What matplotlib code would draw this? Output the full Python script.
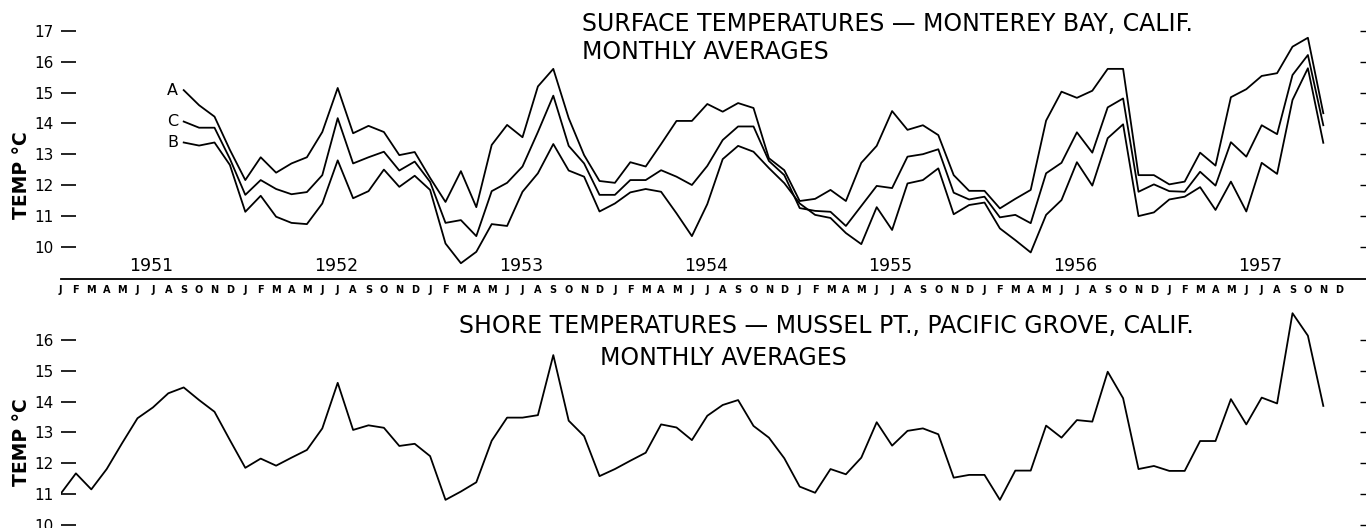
import matplotlib
matplotlib.use("Agg")
import matplotlib.pyplot as plt

plt.rcParams['font.family'] = ['DejaVu Sans']

# months counted from Jan 1951 (0) ; surface lines start Sep 1951, shore line Jan 1951
years = [1951, 1952, 1953, 1954, 1955, 1956, 1957]
month_letters = list("JFMAMJJASOND") * 7
surface_start = 8
shore_start = 0

# surface temperatures, Monterey Bay (Sep 1951 - Nov 1957)
line_a = [15.08, 14.59, 14.22, 13.14,
          12.16, 12.9, 12.4, 12.7, 12.9, 13.72, 15.15, 13.68, 13.92, 13.72, 12.97, 13.07,
          12.23, 11.45, 12.45, 11.28, 13.3, 13.95, 13.55, 15.2, 15.77, 14.17, 12.97, 12.13,
          12.07, 12.74, 12.6, 13.33, 14.08, 14.08, 14.63, 14.38, 14.66, 14.5, 12.87, 12.48,
          11.48, 11.55, 11.84, 11.48, 12.72, 13.27, 14.4, 13.79, 13.94, 13.62, 12.32, 11.81,
          11.81, 11.24, 11.55, 11.84, 14.09, 15.03, 14.83, 15.06, 15.77, 15.77, 12.32, 12.32,
          12.02, 12.11, 13.05, 12.63, 14.85, 15.11, 15.54, 15.63, 16.49, 16.78, 14.33]
line_c = [14.06, 13.86, 13.86, 12.85,
          11.68, 12.16, 11.87, 11.7, 11.77, 12.32, 14.17, 12.7, 12.9, 13.08, 12.47, 12.76,
          12.1, 10.77, 10.86, 10.34, 11.8, 12.07, 12.6, 13.72, 14.9, 13.27, 12.7, 11.68,
          11.68, 12.16, 12.16, 12.48, 12.27, 12.0, 12.62, 13.46, 13.9, 13.9, 12.78, 12.32,
          11.25, 11.16, 11.13, 10.67, 11.32, 11.97, 11.9, 12.92, 13.0, 13.16, 11.75, 11.53,
          11.62, 10.95, 11.03, 10.76, 12.38, 12.72, 13.71, 13.05, 14.52, 14.81, 11.78, 12.02,
          11.8, 11.78, 12.43, 11.98, 13.39, 12.92, 13.94, 13.65, 15.57, 16.22, 13.94]
line_b = [13.38, 13.28, 13.38, 12.65,
          11.13, 11.65, 10.97, 10.77, 10.73, 11.4, 12.8, 11.57, 11.8, 12.5, 11.94, 12.3,
          11.84, 10.1, 9.46, 9.83, 10.73, 10.67, 11.78, 12.38, 13.33, 12.47, 12.27, 11.14,
          11.4, 11.76, 11.87, 11.78, 11.08, 10.34, 11.38, 12.84, 13.27, 13.08, 12.55, 12.06,
          11.4, 11.03, 10.93, 10.44, 10.08, 11.28, 10.54, 12.05, 12.16, 12.54, 11.05, 11.35,
          11.43, 10.59, 10.21, 9.81, 11.03, 11.51, 12.74, 11.98, 13.52, 13.97, 10.99, 11.11,
          11.53, 11.62, 11.93, 11.19, 12.11, 11.14, 12.72, 12.36, 14.76, 15.79, 13.37]

# shore temperatures, Mussel Pt. (Jan 1951 - Nov 1957)
shore = [11.0, 11.67, 11.15, 11.81, 12.65, 13.46, 13.81, 14.27, 14.46, 14.05, 13.67, 12.75,
         11.85, 12.15, 11.92, 12.18, 12.43, 13.13, 14.61, 13.08, 13.23, 13.15, 12.56, 12.63,
         12.23, 10.81, 11.08, 11.38, 12.73, 13.48, 13.48, 13.56, 15.51, 13.38, 12.88, 11.58,
         11.81, 12.08, 12.34, 13.26, 13.16, 12.75, 13.54, 13.89, 14.05, 13.21, 12.83, 12.16,
         11.24, 11.04, 11.81, 11.64, 12.18, 13.33, 12.57, 13.05, 13.13, 12.94, 11.53, 11.62,
         11.62, 10.81, 11.76, 11.76, 13.22, 12.83, 13.40, 13.35, 14.97, 14.11, 11.81, 11.91,
         11.75, 11.75, 12.72, 12.72, 14.08, 13.26, 14.13, 13.94, 16.87, 16.14, 13.86]

top_ticks = list(range(10, 18))
bottom_ticks = list(range(10, 17))

W, H = 1366, 528
fig = plt.figure(figsize=(W / 100, H / 100), dpi=100)

left = 60.5 / W
width = 1 - left
xmax = (W - 60.5) / 15.4

ax1 = fig.add_axes([left, 1 - 279 / H, width, 279 / H])
ax2 = fig.add_axes([left, 0, width, 230 / H])

# верхний график: три линии
for name, vals in [("A", line_a), ("C", line_c), ("B", line_b)]:
    xs = list(range(surface_start, surface_start + len(vals)))
    ax1.plot(xs, vals, color="black", lw=1.3)
    ax1.annotate(name, xy=(xs[0], vals[0]), xytext=(-4, 0), textcoords="offset points",
                 ha="right", va="center", fontsize=11.5)

ax1.set_xlim(0, xmax)
ax1.set_ylim(8.948, 18.006)
for s in ["top", "left", "right"]:
    ax1.spines[s].set_visible(False)
ax1.spines["bottom"].set_linewidth(1.3)
ax1.set_xticks([12 * i for i in range(len(years))])
ax1.set_xticklabels([])
ax1.tick_params(axis="x", which="major", direction="inout", length=9.5, width=1.2)

# буквы месяцев под осью
for i, letter in enumerate(month_letters):
    ax1.annotate(letter, xy=(i, 0), xycoords=("data", "axes fraction"),
                 xytext=(0, -4), textcoords="offset points", ha="center", va="top",
                 fontsize=7, fontweight="bold")
for i, yr in enumerate(years):
    ax1.annotate(str(yr), xy=(12 * i + 5.9, 0), xycoords=("data", "axes fraction"),
                 xytext=(0, 3), textcoords="offset points", ha="center", va="bottom",
                 fontsize=12.5)

# нижний график
xs = list(range(shore_start, shore_start + len(shore)))
ax2.plot(xs, shore, color="black", lw=1.3)
ax2.set_xlim(0, xmax)
ax2.set_ylim(9.896, 17.364)
for s in ax2.spines.values():
    s.set_visible(False)
ax2.set_xticks([])

for ax, ticks in [(ax1, top_ticks), (ax2, bottom_ticks)]:
    ax.set_yticks(ticks)
    ax.tick_params(axis="y", direction="in", length=10.5, width=1.2, pad=5, labelsize=11)
    axr = ax.twinx()
    axr.set_ylim(ax.get_ylim())
    axr.set_yticks(ticks)
    axr.set_yticklabels([])
    axr.tick_params(axis="y", direction="in", length=4.5, width=1.0)
    for s in axr.spines.values():
        s.set_visible(False)
    axr.set_xticks([])

def px(x, y):
    return x / W, 1 - y / H

fig.text(*px(582, 24), "SURFACE TEMPERATURES \u2014 MONTEREY BAY, CALIF.",
         fontsize=17, ha="left", va="center")
fig.text(*px(582, 52), "MONTHLY AVERAGES", fontsize=17, ha="left", va="center")
fig.text(*px(459, 326), "SHORE TEMPERATURES \u2014 MUSSEL PT., PACIFIC GROVE, CALIF.",
         fontsize=17, ha="left", va="center")
fig.text(*px(600, 358), "MONTHLY AVERAGES", fontsize=17, ha="left", va="center")
fig.text(*px(22, 175), "TEMP °C", rotation=90, fontsize=13.5, fontweight="bold",
         ha="center", va="center")
fig.text(*px(22, 442), "TEMP °C", rotation=90, fontsize=13.5, fontweight="bold",
         ha="center", va="center")

fig.savefig("out.png", dpi=100)
